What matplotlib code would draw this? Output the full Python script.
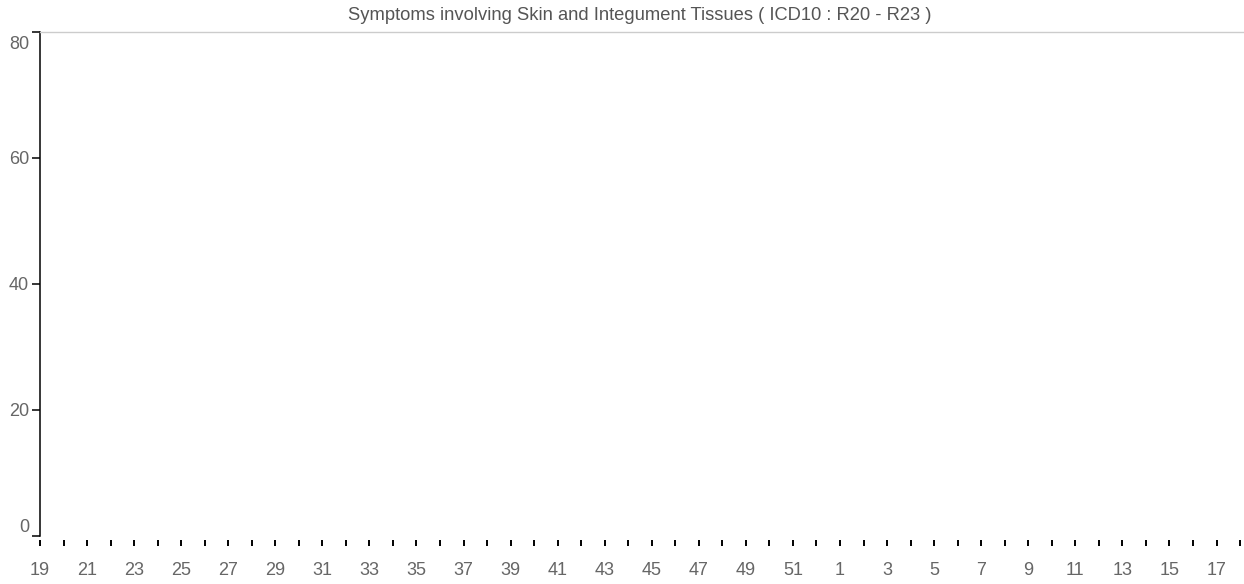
import numpy as np
import matplotlib
matplotlib.use("Agg")
import matplotlib.pyplot as plt
import matplotlib.transforms as mtransforms

plt.rcParams['font.family'] = ['Liberation Sans', 'DejaVu Sans']

title = "Symptoms involving Skin and Integument Tissues ( ICD10 : R20 - R23 )"
# epidemiological weeks, from week 19 through week 18 of the following year
weeks = list(range(19, 53)) + list(range(1, 19))
y_ticks = [0, 20, 40, 60, 80]
y_max = 80

W, H = 1244, 584
fig = plt.figure(figsize=(W / 100, H / 100), dpi=100)
ax = fig.add_axes([40 / W, 48.5 / H, 1 - 40 / W, (535.5 - 32) / H])

step = 23.53  # pixels per week
x = np.arange(len(weeks))
ax.set_xlim(0, (W - 40) / step)
ax.set_ylim(0, y_max)

ax.spines['right'].set_visible(False)
ax.spines['bottom'].set_visible(False)
ax.spines['bottom'].set_position(('outward', 3))
ax.spines['top'].set_color('#cccccc')
ax.spines['top'].set_linewidth(1)
ax.spines['left'].set_color('black')
ax.spines['left'].set_linewidth(1.1)

ax.set_xticks(x)
ax.set_xticklabels([str(w) if i % 2 == 0 else '' for i, w in enumerate(weeks)])
ax.tick_params(axis='x', length=4.3, width=1.4, color='black', pad=12,
               labelsize=13, labelcolor='#666666')

ax.set_yticks(y_ticks)
ax.set_yticklabels([str(v) for v in y_ticks])
ax.tick_params(axis='y', length=6, width=1.1, color='black', pad=2,
               labelsize=13, labelcolor='#666666')
ylabels = ax.get_yticklabels()
ylabels[0].set_verticalalignment('bottom')
ylabels[-1].set_verticalalignment('top')
# push the top label a little further down, under the axis end
ylabels[-1].set_transform(ylabels[-1].get_transform() +
                          mtransforms.ScaledTranslation(0, -4 / 100, fig.dpi_scale_trans))

fig.text(640 / W, 1 - 15 / H, title, ha='center', va='center',
         fontsize=13.2, color='#555555')

fig.savefig("out.png", dpi=100)
